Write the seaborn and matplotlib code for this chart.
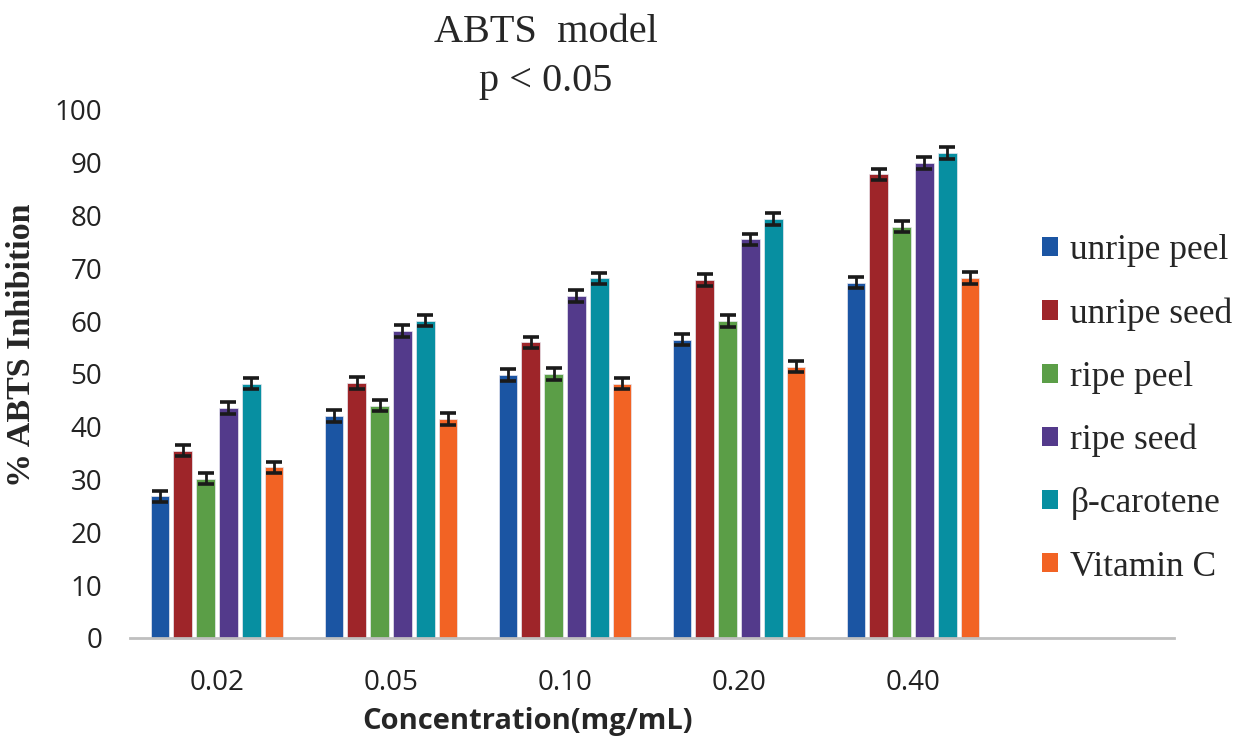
import matplotlib
matplotlib.use("Agg")
import matplotlib.pyplot as plt
import seaborn as sns
import pandas as pd
from matplotlib.patches import Patch
from matplotlib.container import BarContainer

concentrations = ["0.02", "0.05", "0.10", "0.20", "0.40"]
series_names = ["unripe peel", "unripe seed", "ripe peel", "ripe seed", "β-carotene", "Vitamin C"]
unripe_peel = [26.8, 42.0, 49.8, 56.5, 67.3]
unripe_seed = [35.5, 48.3, 56.0, 67.8, 87.8]
ripe_peel = [30.2, 44.0, 50.0, 60.0, 77.9]
ripe_seed = [43.6, 58.2, 64.8, 75.5, 90.0]
beta_carotene = [48.2, 60.1, 68.1, 79.3, 91.9]
vitamin_c = [32.3, 41.5, 48.2, 51.4, 68.2]
error = [1.1, 1.1, 1.1, 1.1, 1.1]
colors = ["#1B55A3", "#9E2529", "#5B9E47", "#533A8B", "#078FA1", "#F26324"]

values = [unripe_peel, unripe_seed, ripe_peel, ripe_seed, beta_carotene, vitamin_c]
rows = []
for name, vals in zip(series_names, values):
    for c, v in zip(concentrations, vals):
        rows.append({"conc": c, "series": name, "value": v})
df = pd.DataFrame(rows)

sns.set_style("white")
fig = plt.figure(figsize=(12.45, 7.41), dpi=100)
ax = fig.add_axes([130 / 1245, 1 - 638 / 741, 1044 / 1245, 528 / 741])

palette = dict(zip(series_names, colors))
sns.barplot(data=df, x="conc", y="value", hue="series", order=concentrations,
            hue_order=series_names, palette=palette, errorbar=None,
            width=0.79, gap=0.2, saturation=1, ax=ax,
            edgecolor="#e8e8f0", linewidth=0.5, legend=False)

bar_containers = [c for c in ax.containers if isinstance(c, BarContainer)]
for cont in bar_containers:
    bars = [b for b in cont if b is not None]
    xs = [b.get_x() + b.get_width() / 2 for b in bars]
    hs = [b.get_height() for b in bars]
    ax.errorbar(xs, hs, yerr=error[:len(bars)], fmt="none", ecolor="#1a1a1a",
                elinewidth=2.0, capsize=5.8, capthick=2.6, zorder=5)

ax.set_xlim(-0.5, 5.5)
ax.set_ylim(0, 100)
ax.set_yticks(range(0, 101, 10))
ax.set_xlabel("")
ax.set_ylabel("")
for s in ["top", "right", "left"]:
    ax.spines[s].set_visible(False)
ax.spines["bottom"].set_color("#BFBFBF")
ax.spines["bottom"].set_linewidth(2)
ax.tick_params(axis="y", length=0, pad=20, labelsize=20, labelcolor="#222222")
ax.tick_params(axis="x", length=0, pad=22, labelsize=20, labelcolor="#222222")
for lab in ax.get_xticklabels() + ax.get_yticklabels():
    lab.set_fontfamily("Open Sans")

fig.text(546 / 1245, 1 - 33 / 741, "ABTS  model", ha="center", va="center",
         fontsize=29, family="Liberation Serif")
fig.text(546 / 1245, 1 - 81 / 741, "p < 0.05", ha="center", va="center",
         fontsize=29, family="Liberation Serif")
fig.text(527 / 1245, 1 - 722 / 741, "Concentration(mg/mL)", ha="center", va="center",
         fontsize=21, family="Open Sans", weight="bold")
fig.text(22 / 1245, 1 - 345 / 741, "% ABTS Inhibition", ha="center", va="center",
         rotation=90, fontsize=24.5, family="Liberation Serif", weight="bold")

handles = [Patch(facecolor=c, edgecolor="none") for c in colors]
fig.legend(handles, series_names, loc="upper left",
           bbox_to_anchor=(1042 / 1245, 1 - 234 / 741), frameon=False,
           prop={"family": "Liberation Serif", "size": 25.5},
           handlelength=0.45, handleheight=0.45, handletextpad=0.35,
           labelspacing=0.85, borderpad=0, borderaxespad=0)

fig.savefig("out.png", dpi=100, facecolor="white")
